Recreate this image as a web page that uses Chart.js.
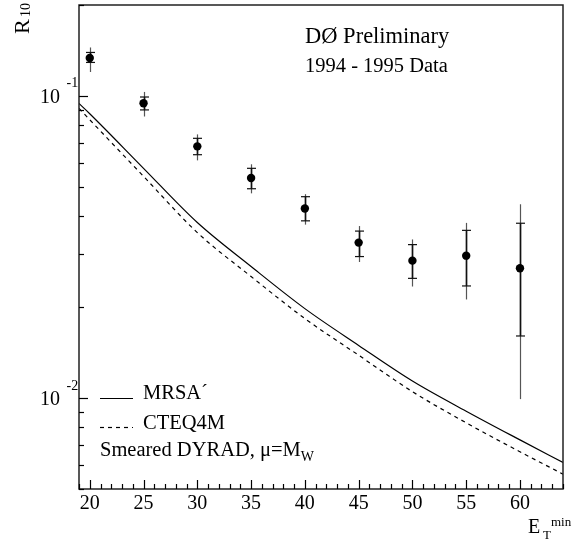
<!DOCTYPE html>
<html><head><meta charset="utf-8">
<script src="https://cdn.jsdelivr.net/npm/chart.js@4/dist/chart.umd.min.js"></script>
<style>html,body{margin:0;padding:0;background:#fff}#wrap{width:573px;height:540px}</style>
</head><body><div id="wrap"><canvas id="c" width="573" height="540"></canvas></div>
<script>
// ---- data ----
const etMin    = [20, 25, 30, 35, 40, 45, 50, 55, 60];
const r10      = [0.1336, 0.0946, 0.0681, 0.0535, 0.0424, 0.0327, 0.0285, 0.0296, 0.0269];
const statLow  = [0.1291, 0.0899, 0.0639, 0.0493, 0.0386, 0.0294, 0.0249, 0.0235, 0.01605];
const statHigh = [0.1393, 0.0992, 0.0724, 0.0576, 0.0464, 0.0357, 0.0322, 0.0359, 0.0379];
const totLow   = [0.1200, 0.0855, 0.0612, 0.0476, 0.0375, 0.0282, 0.0234, 0.0212, 0.00992];
const totHigh  = [0.1447, 0.1031, 0.0746, 0.0594, 0.0473, 0.0371, 0.0335, 0.0380, 0.0438];
const curveEt  = [19, 20, 25, 30, 35, 40, 45, 50, 55, 60, 64];
const mrsa     = [0.0944, 0.0873, 0.0576, 0.0381, 0.02725, 0.01977, 0.01494, 0.01139, 0.00905, 0.00727, 0.00612];
const cteq     = [0.0910, 0.0834, 0.0542, 0.0353, 0.02525, 0.01833, 0.01386, 0.0105, 0.00828, 0.00664, 0.0056];
const xTicks   = [20, 25, 30, 35, 40, 45, 50, 55, 60];
const yDecades = [0.1, 0.01];
const yDecadeExp = ['-1', '-2'];
const legendNames = ['MRSA\u00b4', 'CTEQ4M'];

const SERIF = '"Liberation Serif", "DejaVu Serif", serif';

const decor = {
  id: 'decor',
  beforeDatasetsDraw(chart) {
    const ctx = chart.ctx, xs = chart.scales.x, ys = chart.scales.y;
    ctx.save();
    etMin.forEach((e, i) => {
      const px = Math.round(xs.getPixelForValue(e)) + 0.5;
      ctx.strokeStyle = '#555'; ctx.lineWidth = 1.2;
      ctx.beginPath();
      ctx.moveTo(px, ys.getPixelForValue(totLow[i]));
      ctx.lineTo(px, ys.getPixelForValue(totHigh[i]));
      ctx.stroke();
      ctx.strokeStyle = '#111'; ctx.lineWidth = 1.6;
      ctx.beginPath();
      ctx.moveTo(px, ys.getPixelForValue(statLow[i]));
      ctx.lineTo(px, ys.getPixelForValue(statHigh[i]));
      ctx.stroke();
      ctx.lineWidth = 1.2;
      [statLow[i], statHigh[i]].forEach(v => {
        const py = ys.getPixelForValue(v);
        ctx.beginPath(); ctx.moveTo(px - 4.5, py); ctx.lineTo(px + 4.5, py); ctx.stroke();
      });
    });
    ctx.restore();
  },
  afterDraw(chart) {
    const ctx = chart.ctx, xs = chart.scales.x, ys = chart.scales.y, a = chart.chartArea;
    ctx.save();
    // frame
    ctx.strokeStyle = '#222'; ctx.lineWidth = 1.5;
    ctx.strokeRect(a.left, a.top, a.right - a.left, a.bottom - a.top);
    // x ticks (inward)
    ctx.lineWidth = 1.2; ctx.strokeStyle = '#000';
    for (let v = 19; v <= 64; v++) {
      const px = Math.round(xs.getPixelForValue(v)) + 0.5;
      const len = (v % 5 === 0) ? 9 : 5;
      ctx.beginPath(); ctx.moveTo(px, a.bottom); ctx.lineTo(px, a.bottom - len); ctx.stroke();
    }
    // y ticks (inward)
    [0.001, 0.01, 0.1].forEach(dec => {
      for (let m = 1; m <= 9; m++) {
        const v = dec * m;
        if (v < ys.min - 1e-12 || v > ys.max + 1e-12) continue;
        const py = Math.round(ys.getPixelForValue(v)) + 0.5;
        const len = (m === 1) ? 9 : 5;
        ctx.beginPath(); ctx.moveTo(a.left, py); ctx.lineTo(a.left + len, py); ctx.stroke();
      }
    });
    // y decade labels
    ctx.fillStyle = '#000'; ctx.textBaseline = 'alphabetic'; ctx.textAlign = 'left';
    yDecades.forEach((d, i) => {
      const py = ys.getPixelForValue(d);
      ctx.font = '20px ' + SERIF;
      ctx.fillText('10', 40, py + 7);
      ctx.font = '14px ' + SERIF;
      ctx.fillText(yDecadeExp[i], 66.5, py - 8.5);
    });
    // y title R^10 (rotated)
    ctx.save();
    ctx.translate(28.5, 34); ctx.rotate(-Math.PI / 2);
    ctx.font = '22px ' + SERIF; ctx.fillText('R', 0, 0);
    ctx.restore();
    ctx.save();
    ctx.translate(30, 17); ctx.rotate(-Math.PI / 2);
    ctx.font = '14px ' + SERIF; ctx.fillText('10', 0, 0);
    ctx.restore();
    // x title E_T^min
    ctx.font = '20px ' + SERIF; ctx.fillText('E', 528, 533);
    ctx.font = '13px ' + SERIF; ctx.fillText('T', 543, 538.5);
    ctx.fillText('min', 551, 526);
    // header text
    ctx.font = '22.5px ' + SERIF; ctx.fillText('D\u00d8 Preliminary', 305, 42.7);
    ctx.font = '20.5px ' + SERIF; ctx.fillText('1994 - 1995 Data', 305, 72.3);
    // legend
    ctx.lineWidth = 1.2; ctx.strokeStyle = '#000';
    ctx.beginPath(); ctx.moveTo(100, 398.5); ctx.lineTo(133, 398.5); ctx.stroke();
    ctx.setLineDash([4, 4]);
    ctx.beginPath(); ctx.moveTo(100, 427.5); ctx.lineTo(133, 427.5); ctx.stroke();
    ctx.setLineDash([]);
    ctx.font = '20.5px ' + SERIF;
    ctx.fillText(legendNames[0], 143, 399.3);
    ctx.fillText(legendNames[1], 143, 429);
    const base = 'Smeared DYRAD, \u03bc=M';
    ctx.fillText(base, 100, 456);
    const w = ctx.measureText(base).width;
    ctx.font = '14px ' + SERIF; ctx.fillText('W', 100 + w, 461);
    ctx.restore();
  }
};

new Chart(document.getElementById('c').getContext('2d'), {
  type: 'line',
  data: {
    datasets: [
      { label: 'D\u00d8 data', data: etMin.map((x, i) => ({ x, y: r10[i] })), showLine: false,
        pointRadius: 4.2, pointBackgroundColor: '#000', pointBorderColor: '#000', pointBorderWidth: 0 },
      { label: legendNames[0], data: curveEt.map((x, i) => ({ x, y: mrsa[i] })), borderColor: '#000',
        borderWidth: 1.2, pointRadius: 0, cubicInterpolationMode: 'monotone', fill: false },
      { label: legendNames[1], data: curveEt.map((x, i) => ({ x, y: cteq[i] })), borderColor: '#000',
        borderWidth: 1.2, borderDash: [4, 4], pointRadius: 0, cubicInterpolationMode: 'monotone', fill: false }
    ]
  },
  options: {
    responsive: false, animation: false, devicePixelRatio: 1,
    layout: { padding: { top: 5, right: 10, left: 0, bottom: 0 } },
    plugins: { legend: { display: false }, tooltip: { enabled: false } },
    scales: {
      x: { type: 'linear', min: 19, max: 64,
        grid: { display: false, drawTicks: false }, border: { display: false },
        afterBuildTicks: s => { s.ticks = xTicks.map(v => ({ value: v })); },
        ticks: { font: { family: SERIF, size: 20 }, color: '#000', padding: 3, maxRotation: 0, autoSkip: false },
        afterFit: s => { s.height = 51; } },
      y: { type: 'logarithmic', min: 0.005, max: 0.2,
        grid: { display: false, drawTicks: false }, border: { display: false },
        ticks: { display: false }, afterFit: s => { s.width = 79; } }
    }
  },
  plugins: [decor]
});
</script>
</body></html>
